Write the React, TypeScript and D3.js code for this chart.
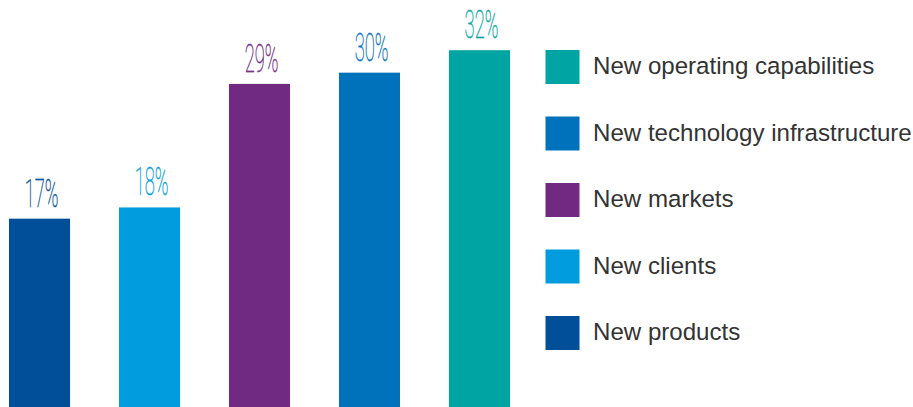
import React from 'react';
import * as d3 from 'd3';

const categories = ['New products', 'New clients', 'New markets', 'New technology infrastructure', 'New operating capabilities'];
const values = [17, 18, 29, 30, 32];
const valueLabels = ['17%', '18%', '29%', '30%', '32%'];
const colors = ['#004f98', '#009cde', '#702a82', '#0071bb', '#00a4a2'];
const legendOrder = ['New operating capabilities', 'New technology infrastructure', 'New markets', 'New clients', 'New products'];

export default function App() {
  const W = 913, H = 407;
  const x = d3.scaleBand<string>().domain(categories).range([9, 510]).paddingInner(0.445).paddingOuter(0);
  const y = d3.scaleLinear().domain([0, 36.47]).range([409.6, 0]);
  const color = d3.scaleOrdinal<string, string>().domain(categories).range(colors);
  const ly = d3.scaleLinear().domain([0, legendOrder.length - 1]).range([50, 316]);
  const bw = x.bandwidth();
  return (
    <svg width={W} height={H} style={{ position: 'absolute', left: 0, top: 0, background: '#fff' }}>
      {categories.map((c, i) => {
        const x0 = x(c) as number;
        const cx = x0 + bw / 2 + 2;
        return (
          <g key={c}>
            <rect x={x0} y={y(values[i])} width={bw} height={y(0) - y(values[i])} fill={color(c)} />
            <text
              transform={`translate(${cx},${y(values[i]) - 12}) scale(0.47,1)`}
              textAnchor="middle"
              fontFamily="Roboto"
              fontWeight={100}
              fontSize={39}
              fill={color(c)}
              stroke={color(c)}
              strokeWidth={0.9}
              fillOpacity={0.85}
              strokeOpacity={0.7}
            >
              {valueLabels[i]}
            </text>
          </g>
        );
      })}
      {legendOrder.map((c, i) => (
        <g key={c} transform={`translate(545.5,${ly(i)})`}>
          <rect x={0} y={0} width={34} height={34} fill={color(c)} />
          <text x={47.5} y={24} fontFamily="Liberation Sans" fontSize={24.1} fill="#333">
            {c}
          </text>
        </g>
      ))}
    </svg>
  );
}
